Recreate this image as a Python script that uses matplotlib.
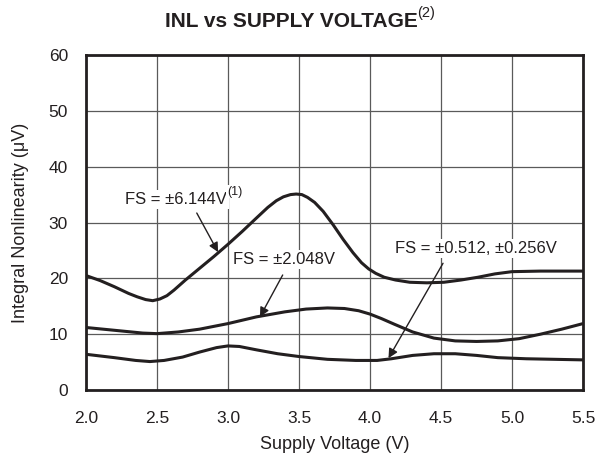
import matplotlib
matplotlib.use("Agg")
import matplotlib.pyplot as plt

plt.rcParams['font.family'] = ['Liberation Sans', 'DejaVu Sans']
plt.rcParams['mathtext.fontset'] = 'custom'
plt.rcParams['mathtext.rm'] = 'Liberation Sans'
plt.rcParams['mathtext.it'] = 'Liberation Sans:italic'
plt.rcParams['mathtext.bf'] = 'Liberation Sans:bold'

# FS = ±6.144V
x_6144 = [2.0, 2.1, 2.2, 2.3, 2.36, 2.42, 2.47, 2.52, 2.57, 2.62, 2.7, 2.8, 2.9, 3.0, 3.1, 3.2,
          3.28, 3.34, 3.39, 3.44, 3.48, 3.52, 3.56, 3.61, 3.67, 3.74, 3.81, 3.88, 3.94, 3.99,
          4.04, 4.1, 4.18, 4.28, 4.4, 4.52, 4.64, 4.76, 4.88, 5.0, 5.2, 5.5]
y_6144 = [20.5, 19.6, 18.5, 17.3, 16.7, 16.2, 16.0, 16.3, 16.9, 17.9, 19.7, 21.8, 23.9, 26.1, 28.4, 30.8,
          32.7, 33.9, 34.6, 35.0, 35.1, 35.0, 34.5, 33.6, 32.0, 29.6, 27.0, 24.6, 22.8, 21.7,
          20.9, 20.2, 19.7, 19.3, 19.2, 19.3, 19.7, 20.2, 20.8, 21.2, 21.3, 21.3]
# FS = ±2.048V
x_2048 = [2.0, 2.2, 2.4, 2.5, 2.65, 2.8, 3.0, 3.2, 3.4, 3.55, 3.7, 3.82, 3.92, 4.0, 4.08, 4.17, 4.3,
          4.45, 4.6, 4.75, 4.9, 5.05, 5.2, 5.35, 5.5]
y_2048 = [11.2, 10.7, 10.2, 10.1, 10.4, 10.9, 11.9, 13.1, 14.0, 14.5, 14.7, 14.6, 14.2, 13.6, 12.8, 11.8, 10.4,
          9.3, 8.8, 8.7, 8.8, 9.2, 10.0, 10.9, 11.9]
# FS = ±0.512, ±0.256V
x_0512 = [2.0, 2.2, 2.35, 2.45, 2.55, 2.68, 2.8, 2.92, 3.0, 3.08, 3.2, 3.35, 3.5, 3.7, 3.9, 4.05, 4.15, 4.3,
          4.45, 4.6, 4.75, 4.9, 5.1, 5.3, 5.5]
y_0512 = [6.4, 5.8, 5.3, 5.1, 5.3, 5.9, 6.8, 7.6, 7.9, 7.8, 7.2, 6.5, 6.0, 5.5, 5.3, 5.3, 5.6, 6.2,
          6.5, 6.5, 6.2, 5.8, 5.6, 5.5, 5.4]

x_ticks = [2.0, 2.5, 3.0, 3.5, 4.0, 4.5, 5.0, 5.5]
x_ticklabels = ['2.0', '2.5', '3.0', '3.5', '4.0', '4.5', '5.0', '5.5']
y_ticks = [0, 10, 20, 30, 40, 50, 60]

fig = plt.figure(figsize=(5.98, 4.53), dpi=100)
ax = fig.add_axes([0.1438, 0.139, 0.8312, 0.7396])

lc = '#231f20'
for xs, ys in [(x_6144, y_6144), (x_2048, y_2048), (x_0512, y_0512)]:
    ax.plot(xs, ys, color=lc, lw=2.2, solid_capstyle='butt', solid_joinstyle='round', zorder=3)

ax.set_xlim(2.0, 5.5)
ax.set_ylim(0, 60)
ax.set_xticks(x_ticks)
ax.set_xticklabels(x_ticklabels)
ax.set_yticks(y_ticks)
ax.grid(True, color='#5a5a5a', lw=0.9, zorder=1)
ax.set_axisbelow(True)
ax.tick_params(length=0, labelsize=12.5, colors=lc)
ax.tick_params(axis='x', pad=15)
ax.tick_params(axis='y', pad=13)
for s in ax.spines.values():
    s.set_linewidth(2.0)
    s.set_color(lc)

ax.set_xlabel('Supply Voltage (V)', fontsize=13, color=lc, labelpad=7)
ax.set_ylabel('Integral Nonlinearity (\u03bcV)', fontsize=13, color=lc, labelpad=14)

title = fig.text(0.487, 0.952, 'INL vs SUPPLY VOLTAGE', ha='center', va='center',
                 fontsize=15, fontweight='bold', color=lc)
fig.canvas.draw()
ax.annotate('(2)', xy=(1.0, 0.95), xycoords=title, ha='left', va='center',
            fontsize=10.5, color=lc, annotation_clip=False)

box = dict(facecolor='white', edgecolor='none', pad=1.5)
arrow = dict(arrowstyle='-|>', color=lc, lw=1.0, mutation_scale=14, shrinkA=0, shrinkB=0)

t1 = ax.text(2.275, 34.2, 'FS = \u00b16.144V', ha='left', va='center', fontsize=12,
             color=lc, bbox=box, zorder=4)
fig.canvas.draw()
ax.annotate('(1)', xy=(1.0, 1.0), xycoords=t1, ha='left', va='center', fontsize=9,
            color=lc, zorder=4, bbox=dict(facecolor='white', edgecolor='none', pad=0.5))
ax.annotate('', xy=(2.93, 24.7), xytext=(2.78, 31.7), arrowprops=arrow, zorder=4)

ax.text(3.035, 23.3, 'FS = \u00b12.048V', ha='left', va='center', fontsize=12,
        color=lc, bbox=box, zorder=4)
ax.annotate('', xy=(3.225, 13.1), xytext=(3.385, 20.6), arrowprops=arrow, zorder=4)

ax.text(4.176, 25.3, 'FS = \u00b10.512, \u00b10.256V', ha='left', va='center', fontsize=12,
        color=lc, bbox=box, zorder=4)
ax.annotate('', xy=(4.13, 5.7), xytext=(4.514, 22.7), arrowprops=arrow, zorder=4)

fig.savefig('out.png', dpi=100)
